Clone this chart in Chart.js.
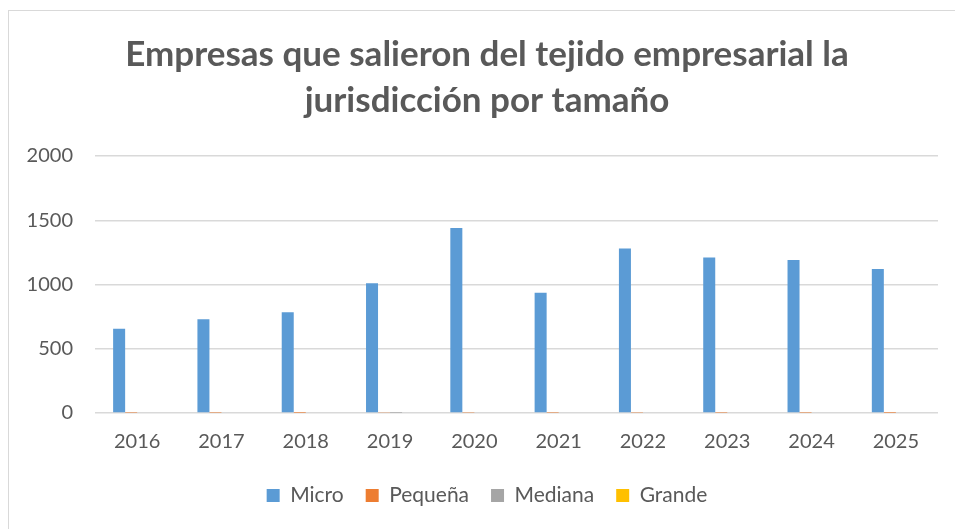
<!DOCTYPE html>
<html>
<head>
<meta charset="utf-8">
<script src="https://cdn.jsdelivr.net/npm/chart.js@4"></script>
<style>
  html, body { margin: 0; padding: 0; background: #fff; }
  #wrap { position: relative; width: 955px; height: 529px; overflow: hidden; }
  #frame { position: absolute; left: 8px; top: 10px; width: 960px; height: 540px; border: 1px solid #d9d9d9; box-sizing: border-box; }
  #chart { position: absolute; left: 0; top: 0; }
</style>
</head>
<body>
<div id="wrap">
  <div id="frame"></div>
  <canvas id="chart" width="955" height="529"></canvas>
</div>
<script>
const years = ['2016', '2017', '2018', '2019', '2020', '2021', '2022', '2023', '2024', '2025'];
const micro = [655, 730, 785, 1010, 1440, 935, 1280, 1210, 1190, 1120];
const pequena = [2, 2, 1, 8, 3, 2, 3, 2, 2, 1];
const mediana = [0, 0, 0, 1, 0, 0, 0, 0, 0, 0];
const grande = [0, 0, 0, 0, 0, 0, 0, 0, 0, 0];
const yTicks = [0, 500, 1000, 1500, 2000];

const font = "Lato, 'Open Sans', sans-serif";
const grey = '#595959';

// the frame is wider than the page, so title and legend sit a bit right of the plot centre
const shiftBlocks = {
    id: 'shiftBlocks',
    afterLayout(chart) {
        [chart.titleBlock, chart.legend].forEach(b => {
            if (!b) return;
            b.left += 18;
            b.right += 18;
        });
    }
};

new Chart(document.getElementById('chart').getContext('2d'), {
    type: 'bar',
    data: {
        labels: years,
        datasets: [
            { label: 'Micro', data: micro, backgroundColor: '#5b9bd5' },
            { label: 'Pequeña', data: pequena, backgroundColor: '#ed7d31' },
            { label: 'Mediana', data: mediana, backgroundColor: '#a5a5a5' },
            { label: 'Grande', data: grande, backgroundColor: '#ffc000' }
        ]
    },
    options: {
        responsive: false,
        animation: false,
        layout: { padding: { left: 0, right: 17, top: 32, bottom: 13 } },
        datasets: { bar: { categoryPercentage: 0.57, barPercentage: 1 } },
        plugins: {
            title: {
                display: true,
                text: ['Empresas que salieron del tejido empresarial la', 'jurisdicción por tamaño'],
                color: grey,
                font: { family: font, size: 35, weight: 'bold', lineHeight: 1.3 },
                padding: { top: 0, bottom: 33 }
            },
            legend: {
                position: 'bottom',
                labels: {
                    color: grey,
                    font: { family: font, size: 21 },
                    boxWidth: 13, boxHeight: 13,
                    padding: 22
                }
            },
            tooltip: { enabled: false }
        },
        scales: {
            x: {
                grid: { display: false },
                border: { display: false },
                ticks: { color: grey, font: { family: font, size: 20 }, padding: 9 }
            },
            y: {
                min: 0, max: 2000,
                afterFit: s => { s.width = 95; },
                afterBuildTicks: s => { s.ticks = yTicks.map(v => ({ value: v })); },
                grid: { color: '#d9d9d9', lineWidth: 1.5, drawTicks: false },
                border: { display: false },
                ticks: { color: grey, font: { family: font, size: 20 }, padding: 22, callback: v => String(v) }
            }
        }
    },
    plugins: [shiftBlocks]
});
</script>
</body>
</html>
